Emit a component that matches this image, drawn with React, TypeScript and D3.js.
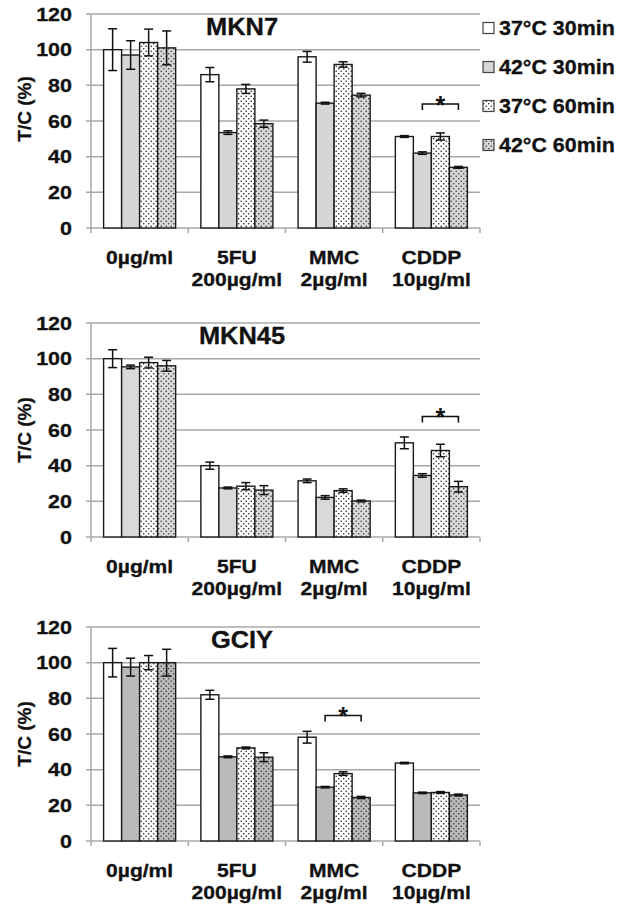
import * as d3 from "d3";
import React, { useEffect, useRef } from "react";

const categories = ["0µg/ml", "5FU", "MMC", "CDDP"];
const categorySub = ["", "200µg/ml", "2µg/ml", "10µg/ml"];
const seriesNames = ["37°C 30min", "42°C 30min", "37°C 60min", "42°C 60min"];
const yTicks = [0, 20, 40, 60, 80, 100, 120];

// rows = categories, columns = series
const mkn7Values = [
  [100, 97, 104, 101],
  [86, 53.5, 78, 58.5],
  [96, 70, 91.7, 74.5],
  [51.3, 42, 51.3, 34],
];
const mkn7Errors = [
  [11.7, 8, 7.5, 9.5],
  [4, 1, 2.5, 2],
  [3, 0.5, 1.5, 1],
  [0.5, 0.7, 2, 0.5],
];
const mkn45Values = [
  [100, 95.4, 97.8, 96],
  [40, 27.5, 28.5, 26.3],
  [31.5, 22.2, 26, 20.2],
  [52.8, 34.5, 48.5, 28.2],
];
const mkn45Errors = [
  [5, 1, 3, 3],
  [2, 0.5, 2, 2.5],
  [1, 1, 1, 0.5],
  [3.3, 1, 3.5, 3],
];
const gciyValues = [
  [100, 97.5, 100, 100],
  [82, 47.2, 52.2, 47],
  [58.2, 30.2, 37.8, 24.4],
  [43.7, 27, 27.2, 25.8],
];
const gciyErrors = [
  [8, 5, 4, 7.5],
  [2.5, 0.5, 0.5, 2.5],
  [3.3, 0.4, 1, 0.6],
  [0.4, 0.4, 0.5, 0.5],
];

// significance: category index, first/last series, bracket level (%)
const mkn7Sig = { cat: 3, from: 1, to: 3, level: 69.5 };
const mkn45Sig = { cat: 3, from: 1, to: 3, level: 67.6 };
const gciySig = { cat: 2, from: 1, to: 3, level: 70.4 };

const panels = [
  { name: "MKN7", values: mkn7Values, errors: mkn7Errors, sig: mkn7Sig, top: 14, gray: "#d6d6d6", titleShift: -12 },
  { name: "MKN45", values: mkn45Values, errors: mkn45Errors, sig: mkn45Sig, top: 323, gray: "#d9d9d9", titleShift: 0 },
  { name: "GCIY", values: gciyValues, errors: gciyErrors, sig: gciySig, top: 627, gray: "#bababa", titleShift: 0 },
];

const FONT = "'Liberation Sans', Arial, sans-serif";
const W = 618;
const H = 906;
const left = 91;
const right = 480;
const plotH = 214;

type Sel = d3.Selection<SVGGElement, unknown, null, undefined>;

const addText = (
  g: Sel,
  str: string,
  x: number,
  y: number,
  size: number,
  anchor: string,
  sx = 1.15
) =>
  g
    .append("text")
    .attr("transform", `translate(${x},${y}) scale(${sx},1)`)
    .attr("text-anchor", anchor)
    .attr("font-family", FONT)
    .attr("font-weight", "bold")
    .attr("font-size", size)
    .attr("fill", "#111")
    .attr("stroke", "#111")
    .attr("stroke-width", 0.3)
    .text(str);

const Chart: React.FC = () => {
  const svgRef = useRef<SVGSVGElement>(null);

  useEffect(() => {
    const svg = d3.select(svgRef.current);
    svg.selectAll("*").remove();

    const defs = svg.append("defs");
    panels.forEach((p, pi) => {
      ["w", "g"].forEach((kind) => {
        const pat = defs
          .append("pattern")
          .attr("id", `dot-${kind}-${pi}`)
          .attr("width", 5)
          .attr("height", 5)
          .attr("patternUnits", "userSpaceOnUse");
        pat
          .append("rect")
          .attr("width", 5)
          .attr("height", 5)
          .attr("fill", kind === "w" ? "#fff" : p.gray);
        [[1.2, 1.2], [3.7, 3.7]].forEach(([cx, cy]) =>
          pat
            .append("circle")
            .attr("cx", cx)
            .attr("cy", cy)
            .attr("r", 0.8)
            .attr("fill", kind === "w" ? "#222" : "#3a3a3a")
        );
      });
    });

    const fills = (pi: number) => [
      "#fff",
      panels[pi].gray,
      `url(#dot-w-${pi})`,
      `url(#dot-g-${pi})`,
    ];

    const x0 = d3.scaleBand<string>().domain(categories).range([left, right]);
    const x1 = d3
      .scaleBand<string>()
      .domain(seriesNames)
      .range([0, x0.bandwidth()])
      .paddingOuter(0.7);

    panels.forEach((p, pi) => {
      const y = d3
        .scaleLinear()
        .domain([0, 120])
        .range([p.top + plotH, p.top]);
      const g = svg.append("g") as unknown as Sel;
      const y0 = y(0);

      // gridlines
      g.selectAll("line.grid")
        .data(yTicks)
        .join("line")
        .attr("class", "grid")
        .attr("x1", left - 5)
        .attr("x2", right)
        .attr("y1", (d) => y(d))
        .attr("y2", (d) => y(d))
        .attr("stroke", "#a8a8a8")
        .attr("stroke-width", 1.5);

      g.append("line")
        .attr("x1", left)
        .attr("x2", left)
        .attr("y1", y(120))
        .attr("y2", y0)
        .attr("stroke", "#a8a8a8")
        .attr("stroke-width", 1.5);

      const bounds = categories.map((c) => x0(c) as number).concat([right]);
      g.selectAll("line.ctick")
        .data(bounds)
        .join("line")
        .attr("class", "ctick")
        .attr("x1", (d) => d)
        .attr("x2", (d) => d)
        .attr("y1", y0)
        .attr("y2", y0 + 5)
        .attr("stroke", "#a8a8a8")
        .attr("stroke-width", 1.5);

      // y tick labels
      yTicks.forEach((t) => addText(g, String(t), 72, y(t) + 6.7, 18.7, "end"));

      // y title
      g.append("text")
        .attr(
          "transform",
          `translate(31,${(y(0) + y(120)) / 2 + p.titleShift}) rotate(-90)`
        )
        .attr("text-anchor", "middle")
        .attr("font-family", FONT)
        .attr("font-weight", "bold")
        .attr("font-size", 19)
        .attr("fill", "#111")
        .attr("stroke", "#111")
        .attr("stroke-width", 0.3)
        .text("T/C (%)");

      // panel title
      addText(g, p.name, 242, p.top + 21, 24, "middle", 1.06);

      // category labels
      categories.forEach((c, ci) => {
        const cx = (x0(c) as number) + x0.bandwidth() / 2;
        addText(g, c, cx, y0 + 35.5, 18, "middle", 1.17);
        if (categorySub[ci])
          addText(g, categorySub[ci], cx, y0 + 58, 18, "middle", 1.17);
      });

      // bars
      const bw = x1.bandwidth();
      p.values.forEach((row, ci) => {
        row.forEach((v, si) => {
          const bx = (x0(categories[ci]) as number) + (x1(seriesNames[si]) as number);
          g.append("rect")
            .attr("x", bx)
            .attr("y", y(v))
            .attr("width", bw)
            .attr("height", y0 - y(v))
            .attr("fill", fills(pi)[si])
            .attr("stroke", "#1a1a1a")
            .attr("stroke-width", 1.4);
        });
      });

      // error bars
      p.values.forEach((row, ci) => {
        row.forEach((v, si) => {
          const cx =
            (x0(categories[ci]) as number) + (x1(seriesNames[si]) as number) + bw / 2;
          const e = p.errors[ci][si];
          const ya = y(v + e);
          const yb = y(v - e);
          const eb = g.append("g").attr("stroke", "#111").attr("stroke-width", 1.5);
          eb.append("line").attr("x1", cx).attr("x2", cx).attr("y1", ya).attr("y2", yb);
          [ya, yb].forEach((yy) =>
            eb
              .append("line")
              .attr("x1", cx - 4.5)
              .attr("x2", cx + 4.5)
              .attr("y1", yy)
              .attr("y2", yy)
          );
        });
      });

      // significance bracket
      const s = p.sig;
      const sx0 =
        (x0(categories[s.cat]) as number) + (x1(seriesNames[s.from]) as number) + bw / 2;
      const sx1 =
        (x0(categories[s.cat]) as number) + (x1(seriesNames[s.to]) as number) + bw / 2;
      const sy = y(s.level);
      g.append("path")
        .attr("d", `M${sx0},${sy + 6}V${sy}H${sx1}V${sy + 6}`)
        .attr("fill", "none")
        .attr("stroke", "#111")
        .attr("stroke-width", 1.6);
      g.append("text")
        .attr("x", (sx0 + sx1) / 2)
        .attr("y", sy + 10)
        .attr("text-anchor", "middle")
        .attr("font-family", FONT)
        .attr("font-weight", "bold")
        .attr("font-size", 25)
        .attr("fill", "#111")
        .text("*");
    });

    // legend
    const lg = svg.append("g") as unknown as Sel;
    seriesNames.forEach((name, i) => {
      const cy = 28 + i * 39;
      lg.append("rect")
        .attr("x", 483)
        .attr("y", cy - 5.5)
        .attr("width", 11)
        .attr("height", 11)
        .attr("fill", fills(0)[i])
        .attr("stroke", "#444")
        .attr("stroke-width", 1.2);
      addText(lg, name, 499, cy + 7.2, 19.5, "start", 1.1);
    });
  }, []);

  return (
    <svg
      ref={svgRef}
      width={W}
      height={H}
      style={{ position: "absolute", left: 0, top: 0, background: "#fff" }}
    />
  );
};

export default function App() {
  return <Chart />;
}
